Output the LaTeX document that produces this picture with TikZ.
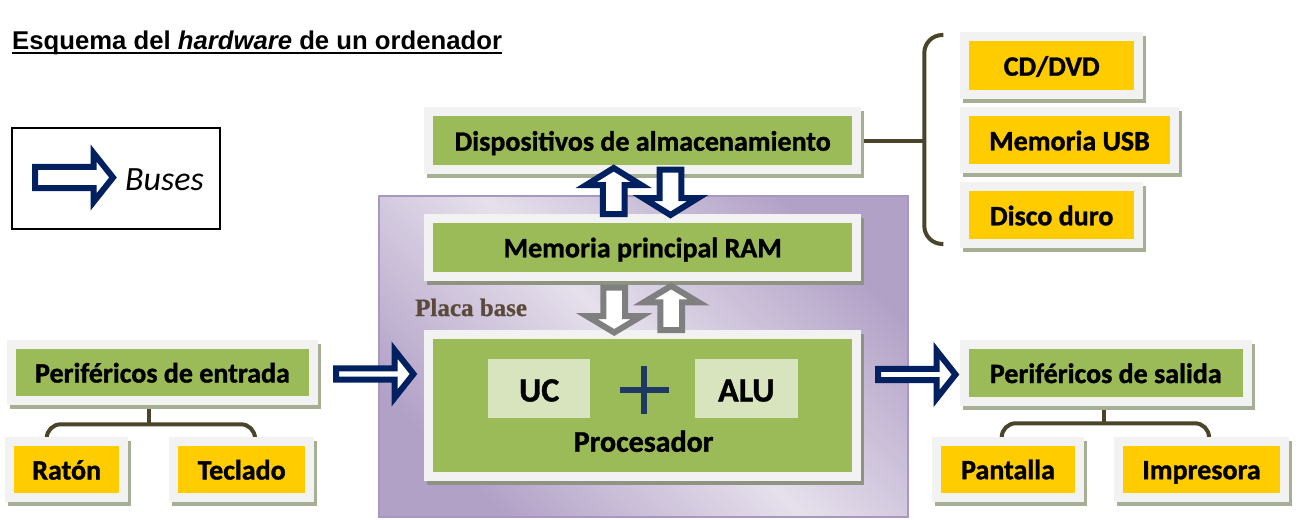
\documentclass[tikz,border=0pt]{standalone}
\usepackage{fontspec}
\setmainfont{Carlito}[BoldFeatures={FakeBold=1.2}]
\newfontfamily\titlefont{Liberation Sans}
\newfontfamily\placafont{Liberation Serif}[BoldFeatures={FakeBold=0.8}]
\usetikzlibrary{calc,backgrounds}
\definecolor{navy}{HTML}{002060}
\definecolor{grarrow}{HTML}{7F7F7F}
\definecolor{frameg}{HTML}{F2F2F2}
\definecolor{boxgreen}{HTML}{9BBB59}
\definecolor{boxyellow}{HTML}{FFCC00}
\definecolor{lightgreen}{HTML}{D7E4BD}
\definecolor{shadowout}{HTML}{A6AF94}
\definecolor{shadowin}{HTML}{8E9382}
\definecolor{treec}{HTML}{4A452A}
\definecolor{plusc}{HTML}{1F3864}
\definecolor{pdark}{HTML}{B2A1C7}
\definecolor{plight}{HTML}{E6E0EC}
\definecolor{pborder}{HTML}{A898C0}
\definecolor{placatext}{HTML}{5B4A3A}
\begin{document}
\begin{tikzpicture}[x=1pt,y=-1pt,
  framebox/.style={draw=frameg, line width=9pt, inner sep=0pt, text=black,
    font=\bfseries\fontsize{28}{30}\selectfont, text height=20pt, text depth=0pt,
    preaction={draw=#1, fill=#1, line width=9pt, transform canvas={xshift=3pt,yshift=-4pt}}},
  gbox/.style={framebox=shadowout, fill=boxgreen},
  gboxin/.style={framebox=shadowin, fill=boxgreen},
  ybox/.style={framebox=shadowout, fill=boxyellow},
  lbox/.style={fill=lightgreen, inner sep=0pt, text=black,
    font=\bfseries\fontsize{34}{36}\selectfont, text height=26pt, text depth=0pt},
  panel/.style={draw=pborder, line width=2pt, inner sep=0pt, shading=axis,
    top color=pdark, bottom color=pdark, middle color=plight, shading angle=-45},
  tree/.style={draw=treec, line width=4pt},
  navyarrow/.style={draw=navy, fill=white, line width=6pt, line join=miter},
  grayarrow/.style={draw=grarrow, fill=white, line width=6pt, line join=miter},
  pics/barrow/.style n args={4}{code={
    \path[pic actions] (0,{-#2}) -- ({#1-#4},{-#2}) -- ({#1-#4},{-#3}) -- (#1,0)
      -- ({#1-#4},#3) -- ({#1-#4},#2) -- (0,#2) -- cycle;}}
]
\useasboundingbox (0,0) rectangle (1297,519);
\begin{scope}[on background layer]
\fill[white] (0,0) rectangle (1297,519);
\end{scope}

% title
\node[anchor=base west, inner sep=0pt, font=\titlefont\bfseries\fontsize{25.7}{28}\selectfont] (title) at (12,50) {Esquema del \textit{hardware} de un ordenador};
\draw[line width=2.3pt] ($(title.base west)+(0,3)$) -- ($(title.base east)+(0,3)$);

% legend
\node[draw, line width=2.3pt, minimum width=208.3pt, minimum height=101pt, inner sep=0pt] (legend) at (115.85,178.8) {};
\pic[navyarrow] at (35,177.5) {barrow={78}{10.6}{24.5}{19.5}};
\node[anchor=base west, inner sep=0pt, font=\itshape\fontsize{34}{36}\selectfont] (buses) at (125,190) {Buses};

% motherboard panel
\node[panel, minimum width=528.7pt, minimum height=321pt] (placa) at (643.35,356.5) {};
\node[anchor=base west, inner sep=0pt, text=placatext, font=\placafont\bfseries\fontsize{25}{28}\selectfont] (placalbl) at (415,316) {Placa base};

% boxes
\node[gbox, minimum width=427.7pt, minimum height=57.7pt] (disp) at (642.7,140.7) {Dispositivos de almacenamiento};
\node[gboxin, minimum width=427.7pt, minimum height=57.7pt] (ram) at (642.7,247.3) {Memoria principal RAM};
\node[gboxin, minimum width=427.7pt, minimum height=141.7pt] (proc) at (642.7,405.3) {};
\node[anchor=base, inner sep=0pt, font=\bfseries\fontsize{30}{32}\selectfont] (proclbl) at (643.6,451.7) {Procesador};
\node[lbox, minimum width=101.7pt, minimum height=58.4pt] (uc) at (539.2,388.5) {UC};
\node[lbox, minimum width=102.7pt, minimum height=58.4pt] (alu) at (746.3,388.5) {ALU};
\draw[plusc, line width=6pt] (644.3,365.7) -- (644.3,414) (620,390) -- (669,390);

\node[gbox, minimum width=302.6pt, minimum height=56pt] (pe) at (162.5,372.5) {Periféricos de entrada};
\node[gbox, minimum width=282.7pt, minimum height=57pt] (ps) at (1105.8,373) {Periféricos de salida};
\node[ybox, minimum width=114.3pt, minimum height=55.4pt] (raton) at (66.7,469.5) {Ratón};
\node[ybox, minimum width=136.3pt, minimum height=55.4pt] (teclado) at (241.7,469.5) {Teclado};
\node[ybox, minimum width=143.6pt, minimum height=56pt] (pantalla) at (1008,469.2) {Pantalla};
\node[ybox, minimum width=166pt, minimum height=56pt] (impresora) at (1201.5,469.2) {Impresora};
\node[ybox, minimum width=174.3pt, minimum height=57.7pt] (cd) at (1051.7,65.7) {CD/DVD};
\node[ybox, minimum width=210pt, minimum height=57pt] (usb) at (1069.5,140.3) {Memoria USB};
\node[ybox, minimum width=174.3pt, minimum height=57pt] (disco) at (1051.7,215.3) {Disco duro};

% tree connectors
\coordinate (hubL) at (149.3,424.3);
\coordinate (hubR) at (1104.3,423.3);
\coordinate (brk) at (924.3,140.7);
\coordinate (btop) at (943.3,35);
\coordinate (bbot) at (943.3,244);
\begin{scope}[on background layer]
\draw[tree] (pe.south -| hubL) -- (hubL);
\draw[tree, rounded corners=14pt] ([xshift=-20pt]raton.north) |- (hubL) -| ([xshift=13.3pt]teclado.north);
\draw[tree] (ps.south -| hubR) -- (hubR);
\draw[tree, rounded corners=14pt] ([xshift=-6.3pt]pantalla.north) |- (hubR) -| ([xshift=7.5pt]impresora.north);
\draw[tree] (disp.east) -- (brk);
\draw[tree, rounded corners=18pt] (btop) -| (brk) |- (bbot);
\end{scope}

% bus arrows
\pic[navyarrow, rotate=90] at (613.7,214) {barrow={46}{10.9}{27.5}{17}};
\pic[navyarrow, rotate=-90] at (670.5,169.5) {barrow={45.5}{10.9}{27.5}{17}};
\pic[grayarrow, rotate=-90] at (614.2,287.7) {barrow={44.8}{10.9}{27.5}{16.5}};
\pic[grayarrow, rotate=90] at (671.2,330.2) {barrow={44.3}{10.9}{27.5}{16.5}};
\pic[navyarrow] at (336,374) {barrow={77.5}{5.6}{24}{19}};
\pic[navyarrow] at (878,374.5) {barrow={77.5}{5.6}{24}{19}};
\end{tikzpicture}
\end{document}
